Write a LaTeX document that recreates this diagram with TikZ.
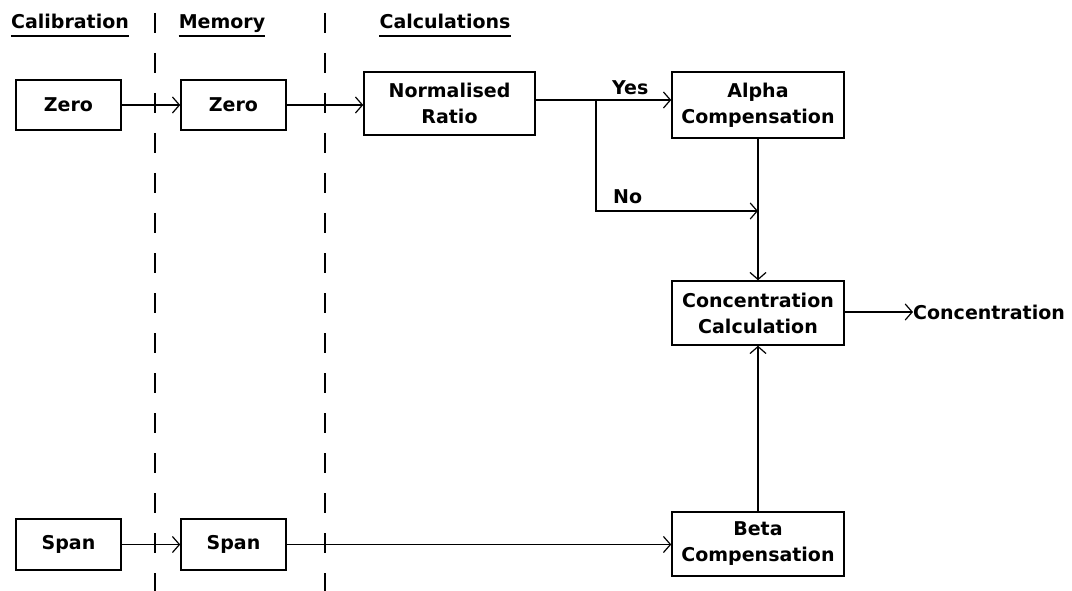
\documentclass[tikz,border=0pt]{standalone}
\usepackage{fontspec}
\setmainfont{DejaVu Sans}
\usetikzlibrary{arrows.meta}
\begin{document}
\begin{tikzpicture}[x=1pt,y=-1pt,
  font=\fontsize{19}{26}\selectfont\bfseries,
  stepbox/.style={draw,line width=1.5pt,inner sep=0pt,align=center},
  conn/.style={line width=1.4pt,-{Straight Barb[length=7pt,width=16pt,line width=1.2pt]}},
  plain/.style={line width=1.4pt},
  head/.style={inner sep=0pt,anchor=base},
  uline/.style={line width=1.5pt},
  divider/.style={line width=1.2pt,dash pattern=on 20pt off 20pt}]
\useasboundingbox (0,0) rectangle (1072,591);
% headers
\node[head] (h1) at (70,29) {Calibration};
\node[head] (h2) at (222,29) {Memory};
\node[head] (h3) at (445,29) {Calculations};
\foreach \h in {h1,h2,h3}
  \draw[uline] ([yshift=-7pt]\h.base west) -- ([yshift=-7pt]\h.base east);
% dividers
\coordinate (d1t) at (155,13); \coordinate (d1b) at (155,591);
\coordinate (d2t) at (325,13); \coordinate (d2b) at (325,591);
\draw[divider] (d1t) -- (d1b);
\draw[divider] (d2t) -- (d2b);
% boxes
\node[stepbox,minimum width=105pt,minimum height=50pt] (zc) at (68.5,105) {Zero};
\node[stepbox,minimum width=105pt,minimum height=50pt] (zm) at (233.5,105) {Zero};
\node[stepbox,minimum width=171pt,minimum height=63pt] (nr) at (449.5,103.5) {Normalised\\Ratio};
\node[stepbox,minimum width=172pt,minimum height=66pt] (al) at (758,105) {Alpha\\Compensation};
\node[stepbox,minimum width=172pt,minimum height=64pt] (cc) at (758,313) {Concentration\\Calculation};
\node[stepbox,minimum width=172pt,minimum height=64pt] (be) at (758,544) {Beta\\Compensation};
\node[stepbox,minimum width=105pt,minimum height=51pt] (sc) at (68.5,544.5) {Span};
\node[stepbox,minimum width=105pt,minimum height=51pt] (sm) at (233.5,544.5) {Span};
\node[inner sep=0pt,anchor=west] (out) at (913,312) {Concentration};
% connectors
\draw[conn] (zc.east) -- (zm.west);
\draw[conn] (zm.east) -- (zm.east -| nr.west);
\coordinate (nrout) at (nr.east |- 0,100);
\coordinate (br) at (596,100);
\draw[conn] (nrout) -- (nrout -| al.west);
\coordinate (nojoin) at (al.south |- 0,211);
\draw[conn] (br) |- (nojoin);
\node[inner sep=0pt,anchor=base west] (yes) at (612,95) {Yes};
\node[inner sep=0pt,anchor=base west] (no) at (613,204) {No};
\draw[conn] (al.south) -- (cc.north);
\draw[conn] (be.north) -- (cc.south);
\draw[conn] (cc.east |- out.west) -- (out.west);
\draw[conn] (sc.east) -- (sm.west);
\draw[conn] (sm.east) -- (sm.east -| be.west);
\end{tikzpicture}
\end{document}
